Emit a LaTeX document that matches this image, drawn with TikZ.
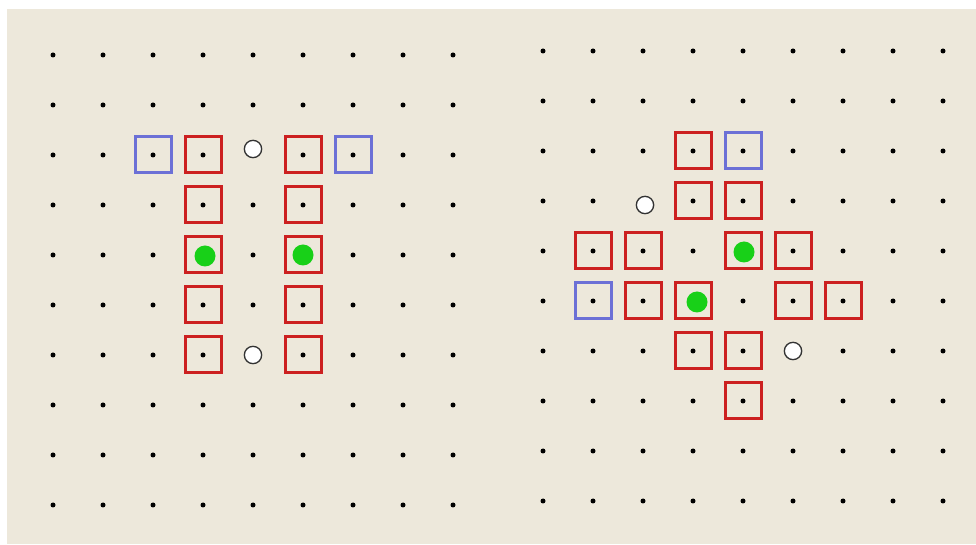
\documentclass[tikz,border=0pt]{standalone}
\definecolor{bg}{RGB}{237,232,219}
\definecolor{sqred}{RGB}{204,32,32}
\definecolor{sqblue}{RGB}{108,112,214}
\definecolor{gr}{RGB}{24,208,24}
\begin{document}
\begin{tikzpicture}[x=0.03cm,y=-0.03cm,
  griddot/.style={circle,fill=black,inner sep=0pt,minimum size=0.15cm},
  redsq/.style={draw=sqred,line width=0.09cm,minimum size=1.08cm,inner sep=0pt},
  bluesq/.style={draw=sqblue,line width=0.09cm,minimum size=1.08cm,inner sep=0pt},
  greendot/.style={circle,fill=gr,inner sep=0pt,minimum size=0.63cm},
  opendot/.style={circle,draw=black!80,fill=white,line width=0.04cm,minimum size=0.52cm,inner sep=0pt}]
\useasboundingbox (0,0) rectangle (976,545);
\fill[white] (0,0) rectangle (976,545);
\fill[bg] (7,9) rectangle (976,544);
% grids
\foreach \i in {0,...,8} \foreach \j in {0,...,9} {
  \node[griddot] (L-\i-\j) at (53+50*\i,55+50*\j) {};
  \node[griddot] (R-\i-\j) at (543+50*\i,51+50*\j) {};
}
% left panel
\node[bluesq] (lb1) at (L-2-2) {};
\node[bluesq] (lb2) at (L-6-2) {};
\foreach \j in {2,...,6} {
  \node[redsq] (lr3-\j) at (L-3-\j) {};
  \node[redsq] (lr5-\j) at (L-5-\j) {};
}
\node[greendot] (lg1) at (205,256) {};
\node[greendot] (lg2) at (303,255) {};
\node[opendot] (lo1) at (253,149) {};
\node[opendot] (lo2) at (253,355) {};
% right panel
\node[redsq] (rr1) at (R-3-2) {};
\node[bluesq] (rb1) at (R-4-2) {};
\node[redsq] (rr2) at (R-3-3) {};
\node[redsq] (rr3) at (R-4-3) {};
\node[redsq] (rr4) at (R-1-4) {};
\node[redsq] (rr5) at (R-2-4) {};
\node[redsq] (rr6) at (R-4-4) {};
\node[redsq] (rr7) at (R-5-4) {};
\node[bluesq] (rb2) at (R-1-5) {};
\node[redsq] (rr8) at (R-2-5) {};
\node[redsq] (rr9) at (R-3-5) {};
\node[redsq] (rr10) at (R-5-5) {};
\node[redsq] (rr11) at (R-6-5) {};
\node[redsq] (rr12) at (R-3-6) {};
\node[redsq] (rr13) at (R-4-6) {};
\node[redsq] (rr14) at (R-4-7) {};
\node[greendot] (rg1) at (744,252) {};
\node[greendot] (rg2) at (697,302) {};
\node[opendot] (ro1) at (645,205) {};
\node[opendot] (ro2) at (793,351) {};
\end{tikzpicture}
\end{document}
